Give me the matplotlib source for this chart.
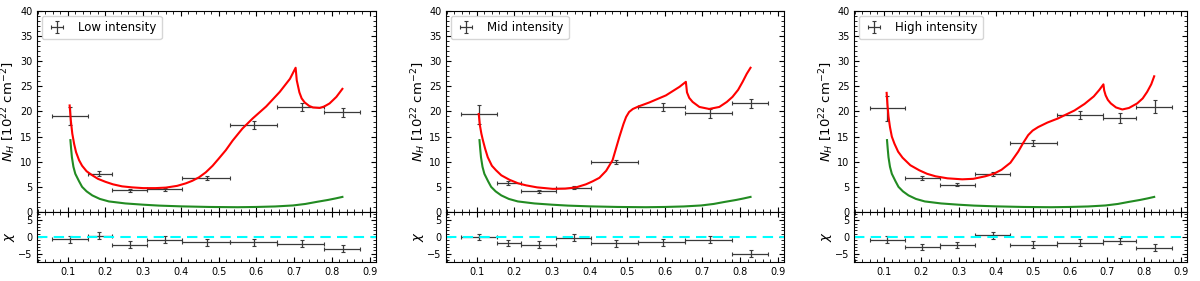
import numpy as np
import matplotlib
matplotlib.use("Agg")
import matplotlib.pyplot as plt
from matplotlib.ticker import MultipleLocator, AutoMinorLocator

# bin centres / edges of the phase bins
x_a = [0.105, 0.184, 0.264, 0.359, 0.469, 0.594, 0.72, 0.829]
lo_a = [0.058, 0.154, 0.217, 0.311, 0.404, 0.529, 0.654, 0.78]
hi_a = [0.154, 0.217, 0.311, 0.404, 0.529, 0.654, 0.78, 0.875]
x_b = [0.107, 0.201, 0.297, 0.392, 0.502, 0.627, 0.735, 0.829]
lo_b = [0.06, 0.155, 0.249, 0.344, 0.44, 0.565, 0.69, 0.78]
hi_b = [0.155, 0.249, 0.344, 0.44, 0.565, 0.69, 0.78, 0.875]

labels = ["Low intensity", "Mid intensity", "High intensity"]

nh_low = [19.1, 7.6, 4.3, 4.5, 6.7, 17.3, 20.9, 19.8]
nh_low_err = [1.8, 0.5, 0.3, 0.3, 0.4, 0.8, 0.8, 0.9]
chi_low = [-0.7, 0.4, -2.3, -0.8, -1.6, -1.6, -2.0, -3.5]

nh_mid = [19.4, 5.8, 4.1, 4.8, 10.0, 20.8, 19.6, 21.6]
nh_mid_err = [1.8, 0.4, 0.3, 0.3, 0.4, 0.8, 0.9, 0.9]
chi_mid = [0.0, -1.8, -2.3, -0.2, -1.9, -1.6, -0.8, -5.0]

nh_high = [20.6, 6.8, 5.4, 7.6, 13.7, 19.3, 18.7, 20.9]
nh_high_err = [2.4, 0.4, 0.3, 0.4, 0.6, 0.7, 0.9, 1.3]
chi_high = [-0.8, -3.0, -2.4, 0.5, -2.3, -1.7, -1.2, -3.2]

chi_err = [1.0, 1.0, 1.0, 1.0, 1.0, 1.0, 1.0, 1.0]

# model curves
red_low_x = [0.105, 0.108, 0.112, 0.117, 0.122, 0.13, 0.138, 0.15, 0.165, 0.18, 0.2, 0.22, 0.244, 0.27, 0.3,
             0.333, 0.36, 0.39, 0.413, 0.43, 0.448, 0.466, 0.484, 0.5, 0.519, 0.537, 0.563, 0.59, 0.626, 0.662,
             0.689, 0.704, 0.707, 0.714, 0.72, 0.728, 0.74, 0.75, 0.768, 0.78, 0.794, 0.812, 0.828]
red_low_y = [21.2, 18.3, 15.6, 13.5, 11.9, 10.3, 9.2, 8.1, 7.3, 6.6, 6.0, 5.5, 5.1, 4.9, 4.75,
             4.75, 4.85, 5.2, 5.7, 6.2, 6.9, 7.9, 9.2, 10.6, 12.3, 14.2, 16.6, 18.6, 21.0, 23.9,
             26.5, 28.7, 26.2, 23.8, 22.6, 21.8, 21.1, 20.8, 20.7, 21.0, 21.6, 22.9, 24.5]

red_mid_x = [0.105, 0.108, 0.112, 0.116, 0.122, 0.129, 0.14, 0.151, 0.165, 0.187, 0.21, 0.231, 0.26, 0.302,
             0.335, 0.364, 0.39, 0.408, 0.426, 0.444, 0.461, 0.479, 0.49, 0.497, 0.505, 0.515, 0.53, 0.559,
             0.603, 0.639, 0.656, 0.659, 0.665, 0.674, 0.692, 0.718, 0.745, 0.765, 0.78, 0.795, 0.807,
             0.818, 0.828]
red_mid_y = [19.5, 17.3, 15.6, 14.3, 12.6, 10.9, 9.2, 8.3, 7.3, 6.4, 5.7, 5.3, 4.9, 4.6,
             4.65, 4.9, 5.5, 6.1, 6.8, 8.2, 10.3, 14.9, 17.5, 18.9, 19.9, 20.5, 21.0, 21.8,
             23.2, 24.9, 25.9, 23.8, 22.7, 21.9, 20.9, 20.5, 20.9, 21.9, 22.9, 24.3, 25.9,
             27.5, 28.7]

red_high_x = [0.106, 0.108, 0.111, 0.115, 0.12, 0.127, 0.137, 0.149, 0.17, 0.194, 0.215, 0.238, 0.27, 0.31,
              0.34, 0.372, 0.395, 0.416, 0.44, 0.461, 0.475, 0.488, 0.5, 0.515, 0.54, 0.568, 0.613, 0.64,
              0.665, 0.68, 0.691, 0.693, 0.697, 0.703, 0.711, 0.725, 0.742, 0.76, 0.782, 0.797, 0.809,
              0.82, 0.828]
red_high_y = [23.7, 21.5, 19.0, 16.9, 15.0, 13.6, 12.0, 10.8, 9.3, 8.3, 7.6, 7.1, 6.7, 6.5,
              6.6, 7.1, 7.6, 8.4, 9.8, 12.0, 13.8, 15.3, 16.2, 16.9, 17.8, 18.6, 20.2, 21.5,
              23.0, 24.3, 25.4, 24.2, 23.2, 22.3, 21.6, 20.8, 20.4, 20.7, 21.6, 22.6, 23.9,
              25.4, 27.0]

green_x = [0.107, 0.109, 0.111, 0.115, 0.12, 0.13, 0.138, 0.15, 0.165, 0.185, 0.209, 0.253, 0.3, 0.342,
           0.4, 0.475, 0.55, 0.6, 0.65, 0.697, 0.73, 0.759, 0.79, 0.81, 0.828]
green_y = [14.3, 12.5, 10.9, 9.0, 7.6, 6.1, 5.0, 4.1, 3.3, 2.6, 2.1, 1.7, 1.45, 1.27,
           1.12, 1.0, 0.95, 1.0, 1.1, 1.3, 1.6, 2.0, 2.4, 2.7, 3.0]

panels = [
    (labels[0], x_a, lo_a, hi_a, nh_low, nh_low_err, chi_low, red_low_x, red_low_y),
    (labels[1], x_a, lo_a, hi_a, nh_mid, nh_mid_err, chi_mid, red_mid_x, red_mid_y),
    (labels[2], x_b, lo_b, hi_b, nh_high, nh_high_err, chi_high, red_high_x, red_high_y),
]

lefts = [0.031, 0.372, 0.712]
widths = [0.282, 0.281, 0.277]

fig = plt.figure(figsize=(12, 2.81), dpi=100)

def style(ax):
    ax.tick_params(which='both', direction='in', top=True, right=True, labelsize=7)
    ax.tick_params(which='major', length=3.5, width=0.8)
    ax.tick_params(which='minor', length=2, width=0.6)
    ax.xaxis.set_major_locator(MultipleLocator(0.1))
    ax.xaxis.set_minor_locator(AutoMinorLocator(5))
    ax.yaxis.set_minor_locator(AutoMinorLocator(5))

ekw = dict(fmt='none', ecolor='#3a3a3a', elinewidth=0.9, capsize=1.6, capthick=0.8)

for i, (lab, xc, lo, hi, nh, nherr, chi, rx, ry) in enumerate(panels):
    xc = np.array(xc)
    xerr = [xc - np.array(lo), np.array(hi) - xc]
    ax = fig.add_axes([lefts[i], 0.2456, widths[i], 0.7154])
    rax = fig.add_axes([lefts[i], 0.0676, widths[i], 0.178], sharex=ax)

    ax.errorbar(xc, nh, yerr=nherr, xerr=xerr, label=lab, **ekw)
    ax.plot(rx, ry, color='red', lw=1.5)
    ax.plot(green_x, green_y, color='forestgreen', lw=1.5)
    ax.set_ylim(0, 40)
    ax.yaxis.set_major_locator(MultipleLocator(5))
    ax.set_ylabel(r'$N_H$ [$10^{22}$ cm$^{-2}$]', fontsize=9.5, labelpad=1)
    ax.legend(loc='upper left', fontsize=8.5, handlelength=1.6, borderpad=0.45,
              handletextpad=1.0, borderaxespad=0.4)
    style(ax)
    ax.tick_params(labelbottom=False)

    rax.errorbar(xc, chi, yerr=chi_err, xerr=xerr, **ekw)
    rax.axhline(0, color='cyan', lw=1.5, ls='--', dashes=(5, 3))
    rax.set_ylim(-7.5, 7.5)
    rax.yaxis.set_major_locator(MultipleLocator(5))
    rax.set_ylabel(r'$\chi$', fontsize=9.5, labelpad=1)
    style(rax)
    ax.set_xlim(0.019, 0.916)

fig.savefig("out.png", dpi=100)
